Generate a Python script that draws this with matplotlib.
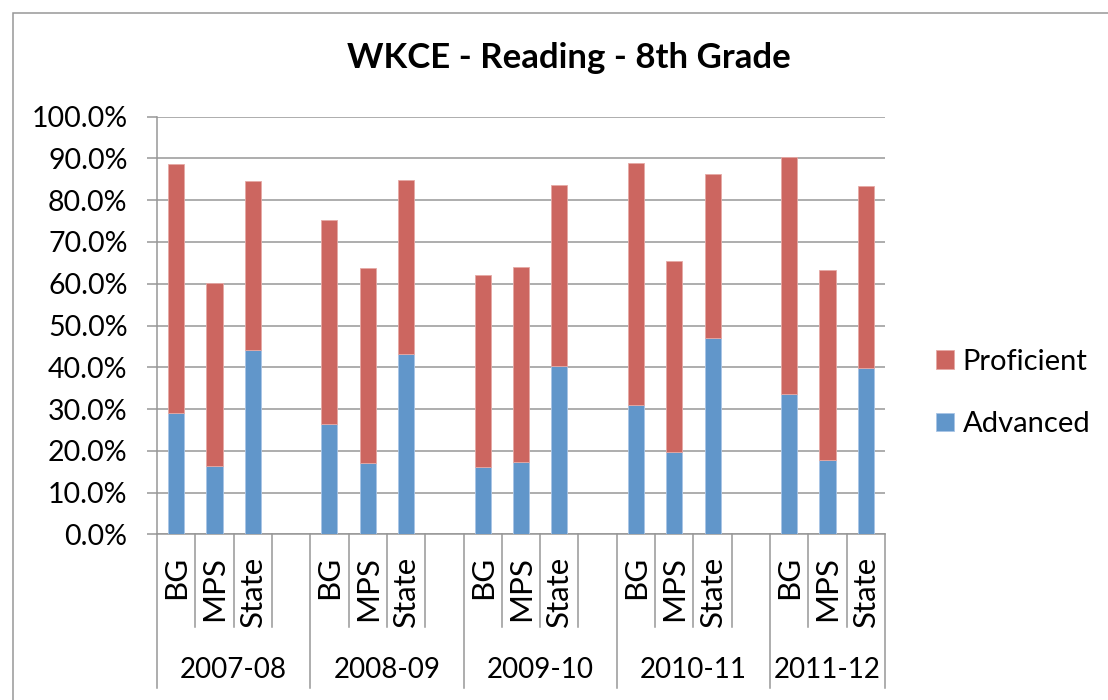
import matplotlib
matplotlib.use('Agg')
import matplotlib.pyplot as plt
import matplotlib.transforms as mtransforms
from matplotlib.patches import Rectangle
from matplotlib.ticker import FuncFormatter
import numpy as np

# ---- data ----
years = ['2007-08', '2008-09', '2009-10', '2010-11', '2011-12']
schools = ['BG', 'MPS', 'State']
advanced = [29.0, 16.3, 44.2,
            26.3, 17.0, 43.2,
            16.1, 17.4, 40.3,
            30.9, 19.7, 46.9,
            33.6, 17.9, 39.9]
proficient = [59.7, 43.8, 40.4,
              49.0, 46.8, 41.7,
              46.1, 46.6, 43.3,
              58.0, 45.7, 39.4,
              56.8, 45.5, 43.5]
yticks = [0, 10, 20, 30, 40, 50, 60, 70, 80, 90, 100]

FONT = ['Lato', 'DejaVu Sans']
plt.rcParams['font.family'] = FONT

W, H = 1108, 700
fig = plt.figure(figsize=(W / 100, H / 100), dpi=100)
fig.patch.set_facecolor('white')

x0, x1 = 157, 885
y0, y1 = 534.3, 116.7
ax = fig.add_axes([x0 / W, 1 - y0 / H, (x1 - x0) / W, (y0 - y1) / H])

GRID = '#979797'
RED = '#CC6660'
BLUE = '#6196CA'

# slot layout: 4 slots per group (3 bars + gap), last group has 3 slots
n_slots = 4 * (len(years) - 1) + len(schools)
xs = []
for g in range(len(years)):
    for k in range(len(schools)):
        xs.append(4 * g + k + 0.5)

bw = 0.42
ax.bar(xs, advanced, width=bw, color=BLUE, edgecolor='#A9C5E6', linewidth=0.6,
       label='Advanced', zorder=3)
ax.bar(xs, proficient, width=bw, bottom=advanced, color=RED, edgecolor='#E6A9A5',
       linewidth=0.6, label='Proficient', zorder=3)

ax.set_xlim(0, n_slots)
ax.set_ylim(0, 100)
ax.set_yticks(yticks)
ax.yaxis.set_major_formatter(FuncFormatter(lambda v, p: f'{v:.1f}%'))
ax.grid(axis='y', color=GRID, linewidth=1.1, zorder=0)
ax.set_axisbelow(True)
for s in ['top', 'right']:
    ax.spines[s].set_visible(False)
for s in ['left', 'bottom']:
    ax.spines[s].set_color(GRID)
    ax.spines[s].set_linewidth(1.1)
ax.tick_params(axis='y', direction='out', length=7.2, width=1.1, color=GRID,
               labelsize=20.5, pad=14, labelcolor='black')
ax.set_xticks([])

# multi-level category axis
trans = mtransforms.blended_transform_factory(ax.transData, ax.transAxes)
ah = y0 - y1
short_bot = -(627 - y0) / ah
long_bot = -(688 - y0) / ah
group_bounds = [4 * g for g in range(len(years))] + [n_slots]
for b in range(n_slots + 1):
    bot = long_bot if b in group_bounds else short_bot
    ax.plot([b, b], [0, bot], color=GRID, lw=1.1, transform=trans, clip_on=False)

lab_top = -(556 - y0) / ah
for x, i in zip(xs, range(len(xs))):
    ax.text(x, lab_top, schools[i % 3], rotation=90, ha='center', va='top',
            fontsize=22.5, transform=trans)

grp_y = -(670 - y0) / ah
for g, yr in enumerate(years):
    gx = (group_bounds[g] + group_bounds[g + 1]) / 2
    ax.text(gx, grp_y, yr, ha='center', va='center', fontsize=20, transform=trans)

# title
fig.text(569 / W, 1 - 58 / H, 'WKCE - Reading - 8th Grade', ha='center', va='center',
         fontsize=25, fontweight='bold')

# legend
h, l = ax.get_legend_handles_labels()
leg = fig.legend(h[::-1], l[::-1], loc='center left',
                 bbox_to_anchor=(936 / W, 1 - 393 / H), frameon=False,
                 fontsize=21, handlelength=0.62, handleheight=0.62,
                 handletextpad=0.3, labelspacing=1.25, borderpad=0, borderaxespad=0)

# outer chart border
fig.patches.append(Rectangle((13 / W, -0.1), 1.2, 1.1 - 13 / H, transform=fig.transFigure,
                             fill=False, edgecolor=GRID, linewidth=1.1))

fig.savefig('out.png', dpi=100)
